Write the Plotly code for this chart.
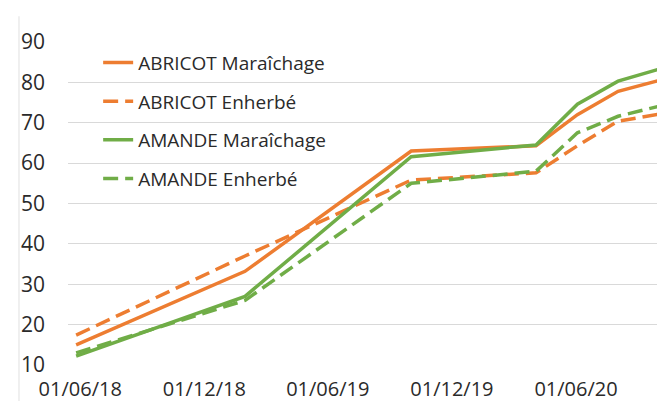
import plotly.graph_objects as go

dates = ["2018-05-26", "2019-01-30", "2019-10-02", "2020-04-03", "2020-06-03", "2020-08-02", "2020-10-04"]
abricot_mar = [15.0, 33.2, 63.0, 64.3, 72.0, 77.8, 80.6]
abricot_enh = [17.4, 37.0, 55.8, 57.6, 64.3, 70.4, 72.2]
amande_mar = [12.2, 27.0, 61.6, 64.5, 74.6, 80.3, 83.4]
amande_enh = [13.0, 26.0, 55.0, 58.0, 67.5, 71.6, 74.2]

tick_vals = ["2018-06-01", "2018-12-01", "2019-06-01", "2019-12-01", "2020-06-01"]
tick_text = ["01/06/18", "01/12/18", "01/06/19", "01/12/19", "01/06/20"]
y_ticks = [10, 20, 30, 40, 50, 60, 70, 80, 90]

ORANGE = "#ED7D31"
GREEN = "#70AD47"
FONT = "Open Sans"
TXT = "#2a2a2a"

series = [
    ("ABRICOT Maraîchage", abricot_mar, ORANGE, "solid"),
    ("ABRICOT Enherbé", abricot_enh, ORANGE, "15px,7px"),
    ("AMANDE Maraîchage", amande_mar, GREEN, "solid"),
    ("AMANDE Enherbé", amande_enh, GREEN, "15px,7px"),
]

fig = go.Figure()
for i, (name, vals, col, dash) in enumerate(series):
    fig.add_trace(go.Scatter(
        x=dates, y=vals, name=name, mode="lines", legendgroup=f"g{i}",
        line=dict(color=col, width=3.5, dash=dash),
    ))

fig.add_shape(type="line", xref="paper", yref="paper",
              x0=-0.0813, x1=-0.0813, y0=1.08, y1=-0.14,
              line=dict(color="#EBEBEB", width=1.5))

fig.update_layout(
    width=665, height=401,
    margin=dict(l=60, r=2, t=34, b=44),
    plot_bgcolor="white", paper_bgcolor="white",
    font=dict(family=FONT, size=20, color=TXT),
    showlegend=True,
    legend=dict(x=0.05, y=0.995, xanchor="left", yanchor="top",
                bgcolor="rgba(0,0,0,0)", tracegroupgap=11,
                font=dict(family=FONT, size=19, color=TXT)),
    xaxis=dict(
        type="date", range=["2018-05-14", "2020-10-19"],
        tickvals=tick_vals, ticktext=tick_text,
        showgrid=False, zeroline=False, showline=False, ticks="",
        ticklabelstandoff=10,
    ),
    yaxis=dict(
        range=[10, 90], tickvals=y_ticks,
        showgrid=True, gridcolor="#D9D9D9", gridwidth=1,
        zeroline=False, showline=False, ticks="",
        ticklabelstandoff=22,
        tickfont=dict(family=FONT, size=21, color=TXT),
    ),
)

fig.write_html("out.html")
